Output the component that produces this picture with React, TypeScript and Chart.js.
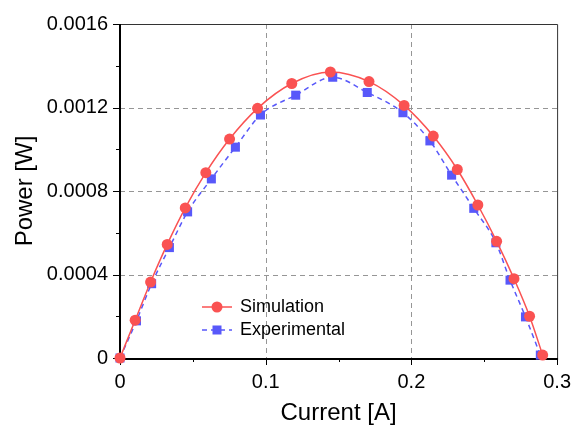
import React, { useEffect, useRef } from "react";
import { Chart, registerables } from "chart.js";

Chart.register(...registerables);

// Data
const currentSim = [0, 0.0104, 0.021, 0.0324, 0.0448, 0.0589, 0.0752, 0.0944, 0.1179, 0.1444, 0.1709, 0.195, 0.215, 0.2315, 0.2456, 0.2585, 0.2704, 0.2811, 0.2901];
const powerSim = [0, 0.000181, 0.000364, 0.000544, 0.000719, 0.000888, 0.001049, 0.001196, 0.001315, 0.00137, 0.001324, 0.00121, 0.001063, 0.000903, 0.000733, 0.000559, 0.00038, 0.0002, 0.000014];

const currentExp = [0, 0.0113, 0.0217, 0.0339, 0.0464, 0.0627, 0.0792, 0.0964, 0.1206, 0.146, 0.1697, 0.1942, 0.2127, 0.2276, 0.2428, 0.258, 0.2677, 0.2783, 0.2885];
const powerExp = [0, 0.000178, 0.000356, 0.000529, 0.0007, 0.000858, 0.00101, 0.001164, 0.001259, 0.001345, 0.001272, 0.001175, 0.00104, 0.000876, 0.000717, 0.000552, 0.000373, 0.000197, 0.000014];

const xTicks = [0, 0.1, 0.2, 0.3];
const xMinorStep = 0.05;
const yTicks = [0, 0.0004, 0.0008, 0.0012, 0.0016];
const yMinorStep = 0.0002;

const seriesLabels = ["Simulation", "Experimental"];
const RED = "rgb(250,82,82)";
const BLUE = "rgb(88,88,250)";
const FONT = "Arial, 'Liberation Sans', sans-serif";

const framePlugin = {
  id: "frame",
  beforeDatasetsDraw(chart: any) {
    const { ctx, chartArea: a, scales } = chart;
    const xs = scales.x, ys = scales.y;
    ctx.save();
    // dashed grid at interior majors
    ctx.strokeStyle = "rgb(150,150,150)";
    ctx.lineWidth = 1;
    ctx.setLineDash([5, 4]);
    xTicks.slice(1, -1).forEach((v) => {
      const px = Math.round(xs.getPixelForValue(v)) + 0.5;
      ctx.beginPath(); ctx.moveTo(px, a.top); ctx.lineTo(px, a.bottom); ctx.stroke();
    });
    yTicks.slice(1, -1).forEach((v) => {
      const py = Math.round(ys.getPixelForValue(v)) + 0.5;
      ctx.beginPath(); ctx.moveTo(a.left, py); ctx.lineTo(a.right, py); ctx.stroke();
    });
    ctx.setLineDash([]);
    // top and right border
    ctx.strokeStyle = "#333";
    ctx.lineWidth = 1;
    ctx.beginPath();
    ctx.moveTo(a.left, a.top + 0.5); ctx.lineTo(a.right + 0.5, a.top + 0.5); ctx.lineTo(a.right + 0.5, a.bottom);
    ctx.stroke();
    // ticks
    ctx.strokeStyle = "#000";
    ctx.lineWidth = 1;
    const xMin = xs.min, xMax = xs.max;
    const nx = Math.round((xMax - xMin) / xMinorStep);
    for (let i = 0; i <= nx; i++) {
      const v = xMin + i * xMinorStep;
      const major = i % 2 === 0;
      const px = Math.round(xs.getPixelForValue(v)) + 0.5;
      ctx.beginPath(); ctx.moveTo(px, a.bottom); ctx.lineTo(px, a.bottom + (major ? 7 : 4)); ctx.stroke();
    }
    const ny = Math.round((ys.max - ys.min) / yMinorStep);
    for (let i = 0; i <= ny; i++) {
      const v = ys.min + i * yMinorStep;
      const major = i % 2 === 0;
      const py = Math.round(ys.getPixelForValue(v)) + 0.5;
      ctx.beginPath(); ctx.moveTo(a.left, py); ctx.lineTo(a.left - (major ? 7 : 4), py); ctx.stroke();
    }
    // left & bottom axes
    ctx.lineWidth = 2;
    ctx.beginPath();
    ctx.moveTo(a.left, a.top); ctx.lineTo(a.left, a.bottom + 1); ctx.lineTo(a.right + 1, a.bottom + 1);
    ctx.stroke();
    ctx.restore();
  },
  afterDatasetsDraw(chart: any) {
    const { ctx, chartArea: a } = chart;
    ctx.save();
    const x0 = a.left + 82, x1 = x0 + 30, xm = (x0 + x1) / 2;
    const rows = [a.top + 283, a.top + 306];
    chart.data.datasets.forEach((ds: any, i: number) => {
      const y = rows[i];
      ctx.strokeStyle = ds.borderColor;
      ctx.lineWidth = 1.5;
      ctx.setLineDash(ds.borderDash || []);
      ctx.beginPath(); ctx.moveTo(x0, y); ctx.lineTo(x1, y); ctx.stroke();
      ctx.setLineDash([]);
      ctx.fillStyle = ds.pointBackgroundColor;
      if (ds.pointStyle === "rect") {
        ctx.fillRect(xm - 4.5, y - 4.5, 9, 9);
      } else {
        ctx.beginPath(); ctx.arc(xm, y, 5.5, 0, Math.PI * 2); ctx.fill();
      }
      ctx.fillStyle = "#000";
      ctx.font = `18px ${FONT}`;
      ctx.textBaseline = "middle";
      ctx.textAlign = "left";
      ctx.fillText(ds.label, x1 + 8, y);
    });
    ctx.restore();
  },
};

export default function App() {
  const ref = useRef<HTMLCanvasElement>(null);
  useEffect(() => {
    if (!ref.current) return;
    const chart = new Chart(ref.current, {
      type: "line",
      data: {
        datasets: [
          {
            label: seriesLabels[0],
            data: currentSim.map((x, i) => ({ x, y: powerSim[i] })),
            borderColor: RED,
            backgroundColor: RED,
            pointBackgroundColor: RED,
            pointBorderColor: RED,
            pointStyle: "circle",
            pointRadius: 5.5,
            pointBorderWidth: 0,
            borderWidth: 1.5,
            cubicInterpolationMode: "monotone",
            clip: false,
          } as any,
          {
            label: seriesLabels[1],
            data: currentExp.map((x, i) => ({ x, y: powerExp[i] })),
            borderColor: BLUE,
            backgroundColor: BLUE,
            pointBackgroundColor: BLUE,
            pointBorderColor: BLUE,
            pointStyle: "rect",
            pointRadius: 6.4,
            pointBorderWidth: 0,
            borderWidth: 1.5,
            borderDash: [5, 4],
            cubicInterpolationMode: "monotone",
            clip: false,
          } as any,
        ],
      },
      options: {
        animation: false,
        responsive: false,
        layout: { padding: { top: 22, right: 21, left: 0, bottom: 0 } },
        plugins: { legend: { display: false }, tooltip: { enabled: false } },
        scales: {
          x: {
            type: "linear",
            min: 0,
            max: 0.3,
            afterFit: (s: any) => { s.height = 67; },
            afterBuildTicks: (s: any) => { s.ticks = xTicks.map((v) => ({ value: v })); },
            ticks: {
              padding: 12,
              color: "#000",
              font: { size: 20, family: FONT },
              maxRotation: 0,
              callback: (v: any) => (Number(v) === 0 ? "0" : Number(v).toFixed(1)),
            },
            grid: { display: false, drawTicks: false },
            border: { display: false },
            title: {
              display: true,
              text: "Current [A]",
              color: "#000",
              font: { size: 24, family: FONT, lineHeight: 1 },
              padding: { top: 0, bottom: 0 },
            },
          },
          y: {
            type: "linear",
            min: 0,
            max: 0.0016,
            afterFit: (s: any) => { s.width = 120; },
            afterBuildTicks: (s: any) => { s.ticks = yTicks.map((v) => ({ value: v })); },
            ticks: {
              padding: 12,
              color: "#000",
              font: { size: 20, family: FONT },
              callback: (v: any) => (Number(v) === 0 ? "0" : Number(v).toFixed(4)),
            },
            grid: { display: false, drawTicks: false },
            border: { display: false },
            title: {
              display: true,
              text: "Power [W]",
              color: "#000",
              font: { size: 24, family: FONT, lineHeight: 1 },
              padding: { top: 13, bottom: 0 },
            },
          },
        },
      },
      plugins: [framePlugin],
    });
    return () => chart.destroy();
  }, []);
  return (
    <div style={{ position: "fixed", left: 0, top: 0, width: 583, height: 425, background: "#fff" }}>
      <canvas ref={ref} width={583} height={425} />
    </div>
  );
}
